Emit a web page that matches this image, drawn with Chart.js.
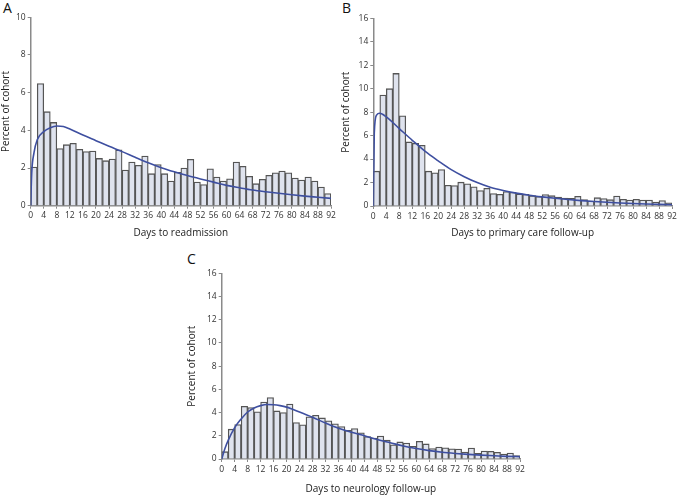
<!DOCTYPE html>
<html>
<head>
<meta charset="utf-8">
<script src="https://cdn.jsdelivr.net/npm/chart.js@4/dist/chart.umd.min.js"></script>
<style>
  html, body { margin: 0; padding: 0; background: #fff; }
  body { width: 680px; height: 495px; position: relative; overflow: hidden; font-family: "Open Sans", sans-serif; }
  .panel { position: absolute; }
  .letter { position: absolute; font-size: 14px; color: #111; line-height: 1; }
</style>
</head>
<body>
<div class="letter" style="left:3px;top:1px">A</div>
<div class="letter" style="left:342px;top:1px">B</div>
<div class="letter" style="left:187px;top:252px">C</div>
<canvas id="chartA" class="panel" style="left:0;top:0" width="340" height="245"></canvas>
<canvas id="chartB" class="panel" style="left:340px;top:0" width="340" height="245"></canvas>
<canvas id="chartC" class="panel" style="left:180px;top:245px" width="350" height="250"></canvas>
<script>
// 2-day bins, start of each bin
const binStart = [0, 2, 4, 6, 8, 10, 12, 14, 16, 18, 20, 22, 24, 26, 28, 30, 32, 34, 36, 38, 40, 42, 44,
  46, 48, 50, 52, 54, 56, 58, 60, 62, 64, 66, 68, 70, 72, 74, 76, 78, 80, 82, 84, 86, 88, 90];

// percent of cohort per bin
const readmission = [2.05, 6.48, 4.99, 4.42, 3.03, 3.24, 3.31, 2.99, 2.87, 2.9, 2.51, 2.39, 2.48, 2.96,
  1.89, 2.32, 2.14, 2.64, 1.7, 2.18, 1.7, 1.31, 1.77, 2.0, 2.46, 1.26, 1.12, 1.96, 1.52, 1.31, 1.43,
  2.32, 2.09, 1.56, 1.17, 1.4, 1.61, 1.75, 1.84, 1.75, 1.47, 1.36, 1.52, 1.31, 0.99, 0.64];
const primaryCare = [2.97, 9.46, 10.0, 11.3, 7.69, 5.46, 5.34, 5.17, 2.97, 2.83, 3.11, 1.77, 1.74, 2.03,
  1.89, 1.63, 1.31, 1.51, 1.06, 1.0, 1.23, 1.17, 1.03, 1.0, 0.88, 0.8, 0.97, 0.88, 0.77, 0.68, 0.66,
  0.83, 0.54, 0.43, 0.71, 0.63, 0.54, 0.85, 0.57, 0.51, 0.57, 0.51, 0.51, 0.34, 0.46, 0.28];
const neurology = [0.63, 2.57, 2.97, 4.54, 4.43, 4.06, 4.91, 5.29, 4.14, 4.0, 4.74, 3.14, 2.94, 3.63,
  3.77, 3.54, 3.29, 3.03, 2.8, 2.46, 2.63, 2.25, 1.94, 1.8, 1.98, 1.62, 1.22, 1.47, 1.37, 1.1, 1.52,
  1.3, 0.9, 1.03, 0.97, 0.88, 0.85, 0.6, 0.94, 0.48, 0.69, 0.66, 0.57, 0.43, 0.51, 0.29];

// fitted curves
const fitAX = [0, 0.3, 1, 2, 4, 6, 8, 10, 12, 16, 20, 24, 28, 32, 36, 40, 44, 48, 52, 56, 60, 64, 68, 72, 76, 80, 84, 88, 92];
const fitAY = [0, 1.7, 2.8, 3.5, 3.93, 4.14, 4.23, 4.2, 4.07, 3.75, 3.45, 3.15, 2.87, 2.57, 2.28, 2.02,
  1.8, 1.6, 1.42, 1.25, 1.08, 0.95, 0.83, 0.74, 0.66, 0.58, 0.51, 0.45, 0.39];
const fitBX = [0, 0.3, 1, 2, 4, 8, 12, 16, 20, 24, 28, 32, 36, 40, 44, 48, 52, 56, 60, 64, 68, 72, 76, 80, 84, 88, 92];
const fitBY = [0, 6.2, 7.75, 7.9, 7.6, 6.6, 5.6, 4.65, 3.85, 3.1, 2.5, 2.0, 1.6, 1.32, 1.1, 0.92, 0.78,
  0.66, 0.55, 0.46, 0.38, 0.32, 0.26, 0.21, 0.17, 0.14, 0.11];
const fitCX = [0, 1, 2, 4, 6, 8, 10, 12, 14, 16, 18, 20, 24, 28, 32, 36, 40, 44, 48, 52, 56, 60, 64, 68, 72, 76, 80, 84, 88, 92];
const fitCY = [0, 0.9, 1.6, 2.7, 3.45, 4.05, 4.4, 4.6, 4.7, 4.68, 4.6, 4.47, 4.05, 3.6, 3.1, 2.65, 2.3,
  2.0, 1.68, 1.4, 1.12, 0.9, 0.72, 0.58, 0.48, 0.4, 0.33, 0.28, 0.23, 0.2];

const xTicks = [0, 4, 8, 12, 16, 20, 24, 28, 32, 36, 40, 44, 48, 52, 56, 60, 64, 68, 72, 76, 80, 84, 88, 92];

const AXIS = '#8a8a8a';
const TEXT = '#333';

function makePanel(id, opts) {
  const bars = binStart.map((s, i) => ({ x: s + 1, y: opts.values[i] }));
  const curve = opts.fitX.map((x, i) => ({ x: x, y: opts.fitY[i] }));

  return new Chart(document.getElementById(id), {
    type: 'bar',
    data: {
      datasets: [
        {
          type: 'bar',
          data: bars,
          backgroundColor: '#dfe3ee',
          borderColor: '#555',
          borderWidth: 1.3,
          barPercentage: 1,
          categoryPercentage: 1,
          order: 2,
        },
        {
          type: 'line',
          data: curve,
          borderColor: '#3e4fa0',
          borderWidth: 1.6,
          pointRadius: 0,
          fill: false,
          cubicInterpolationMode: 'monotone',
          order: 1,
        },
      ],
    },
    options: {
      responsive: false,
      animation: false,
      events: [],
      layout: { padding: opts.padding },
      plugins: { legend: { display: false }, tooltip: { enabled: false } },
      scales: {
        x: {
          type: 'linear',
          min: 0,
          max: 92,
          offset: false,
          afterBuildTicks: (axis) => { axis.ticks = xTicks.map(v => ({ value: v })); },
          afterFit: (axis) => { axis.height = opts.xHeight; },
          grid: { display: true, offset: false, drawOnChartArea: false, drawTicks: true, tickLength: 3, color: AXIS, lineWidth: 1 },
          border: { display: true, color: AXIS, width: 1.5 },
          ticks: { color: TEXT, font: { family: 'Open Sans', size: 8.5 }, padding: 2, maxRotation: 0, autoSkip: false },
          title: { display: true, text: opts.xTitle, color: '#222', font: { family: 'Open Sans', size: 10 }, padding: 0 },
        },
        y: {
          min: 0,
          max: opts.yMax,
          afterFit: (axis) => { axis.width = opts.yWidth; },
          grid: { display: true, drawOnChartArea: false, drawTicks: true, tickLength: 3, color: AXIS, lineWidth: 1 },
          border: { display: true, color: AXIS, width: 1.5 },
          ticks: { stepSize: 2, color: TEXT, font: { family: 'Open Sans', size: 8.5 }, padding: 2 },
          title: { display: true, text: 'Percent of cohort', color: '#222', font: { family: 'Open Sans', size: 10 }, padding: { top: 0.5, bottom: 0 } },
        },
      },
    },
  });
}

makePanel('chartA', {
  values: readmission, fitX: fitAX, fitY: fitAY, yMax: 10,
  xTitle: 'Days to readmission',
  padding: { left: 0, right: 9, top: 17.3, bottom: 6 },
  yWidth: 30.7, xHeight: 33.3,
});

makePanel('chartB', {
  values: primaryCare, fitX: fitBX, fitY: fitBY, yMax: 16,
  xTitle: 'Days to primary care follow-up',
  padding: { left: 0, right: 8, top: 18.3, bottom: 6 },
  yWidth: 33.3, xHeight: 33,
});

makePanel('chartC', {
  values: neurology, fitX: fitCX, fitY: fitCY, yMax: 16,
  xTitle: 'Days to neurology follow-up',
  padding: { left: 6, right: 10, top: 28.3, bottom: 0 },
  yWidth: 35.7, xHeight: 36,
});
</script>
</body>
</html>
